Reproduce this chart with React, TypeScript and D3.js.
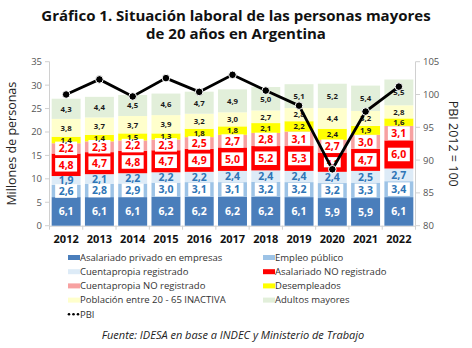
import React from "react";
import * as d3 from "d3";

const years = ["2012","2013","2014","2015","2016","2017","2018","2019","2020","2021","2022"];
const privado = [6.1,6.1,6.1,6.2,6.2,6.2,6.2,6.1,5.9,5.9,6.1];
const publico = [2.6,2.8,2.9,3.0,3.1,3.1,3.2,3.2,3.2,3.3,3.4];
const cpRegistrado = [1.9,2.1,2.2,2.2,2.2,2.4,2.4,2.4,2.4,2.5,2.7];
const asalNoReg = [4.8,4.7,4.8,4.7,4.9,5.0,5.2,5.3,4.1,4.7,6.0];
const cpNoReg = [2.2,2.3,2.2,2.3,2.5,2.7,2.8,3.1,2.7,3.0,3.1];
const desempleados = [1.4,1.4,1.5,1.3,1.8,1.8,2.1,2.2,2.4,1.9,1.6];
const inactiva = [3.8,3.7,3.7,3.9,3.2,3.0,2.7,2.8,4.4,3.2,2.8];
const adultos = [4.3,4.4,4.5,4.6,4.7,4.9,5.0,5.1,5.2,5.4,5.5];
const pbi = [100.0,102.3,99.7,102.5,100.4,103.0,100.6,98.3,88.6,97.4,101.2];
const leftTicks = [0,5,10,15,20,25,30,35];
const rightTicks = [80,85,90,95,100,105];

const series = [
  { name: "Asalariado privado en empresas", values: privado, color: "#4A7EBB", text: "#FFFFFF", box: false, fs: 10.5 },
  { name: "Empleo público", values: publico, color: "#9DC3E6", text: "#2E75B6", box: true, fs: 10.5 },
  { name: "Cuentapropia registrado", values: cpRegistrado, color: "#DDEBF7", text: "#2E75B6", box: false, fs: 10.5 },
  { name: "Asalariado NO registrado", values: asalNoReg, color: "#FF0000", text: "#FF0000", box: true, fs: 10.5 },
  { name: "Cuentapropia NO registrado", values: cpNoReg, color: "#F7A1A1", text: "#FF0000", box: true, fs: 10.5 },
  { name: "Desempleados", values: desempleados, color: "#FFFF00", text: "#1a1a1a", box: false, fs: 7.8 },
  { name: "Población entre 20 - 65 INACTIVA", values: inactiva, color: "#FFFFCC", text: "#1a1a1a", box: false, fs: 7.8 },
  { name: "Adultos mayores", values: adultos, color: "#E2EFDA", text: "#1a1a1a", box: false, fs: 7.8 },
];

const legendOrder = [0, 1, 2, 3, 4, 5, 6, 7];

const fmt = (v: number) => v.toFixed(1).replace(".", ",");

export default function App() {
  const W = 472, H = 348;
  const x = d3.scaleBand<string>().domain(years).range([50, 415]).paddingInner(0.13).paddingOuter(0.05);
  const yL = d3.scaleLinear().domain([0, 35]).range([225.7, 61.7]);
  const yR = d3.scaleLinear().domain([80, 105]).range([225.7, 61.7]);

  const stackData = years.map((yr, i) => {
    const o: any = { year: yr };
    series.forEach((s, k) => (o["s" + k] = s.values[i]));
    return o;
  });
  const stacked = d3.stack().keys(series.map((_, k) => "s" + k))(stackData);

  const line = d3.line<number>().x((_, i) => (x(years[i]) as number) + x.bandwidth() / 2).y((d) => yR(d));

  const font = "'Open Sans', 'Noto Sans', sans-serif";
  const bw = x.bandwidth();

  return (
    <svg width={W} height={H} style={{ position: "absolute", left: 0, top: 0, background: "#fff" }} fontFamily={font}>
      <text x={236} y={21} textAnchor="middle" fontSize={15} fontWeight={700} fill="#111">Gráfico 1. Situación laboral de las personas mayores</text>
      <text x={236} y={39} textAnchor="middle" fontSize={15} fontWeight={700} fill="#111">de 20 años en Argentina</text>

      {/* axes */}
      <line x1={49.5} x2={49.5} y1={yL(35)} y2={yL(0)} stroke="#D0D0D0" />
      <line x1={415.5} x2={415.5} y1={yR(105)} y2={yR(80)} stroke="#D0D0D0" />
      <line x1={49.5} x2={415.5} y1={yL(0) + 0.5} y2={yL(0) + 0.5} stroke="#D0D0D0" />
      {leftTicks.map((t) => (
        <g key={"l" + t}>
          <line x1={45} x2={49.5} y1={yL(t)} y2={yL(t)} stroke="#D0D0D0" />
          <text x={42} y={yL(t) + 3.5} textAnchor="end" fontSize={9.5} fill="#555">{t}</text>
        </g>
      ))}
      {rightTicks.map((t) => (
        <g key={"r" + t}>
          <line x1={415.5} x2={420} y1={yR(t)} y2={yR(t)} stroke="#D0D0D0" />
          <text x={423} y={yR(t) + 3.5} textAnchor="start" fontSize={9.5} fill="#555">{t}</text>
        </g>
      ))}
      {years.map((yr) => {
        const xx = (x(yr) as number) - (x.step() - bw) / 2;
        return <line key={"xt" + yr} x1={xx} x2={xx} y1={yL(0)} y2={yL(0) + 4} stroke="#D0D0D0" />;
      })}
      <line x1={415.5} x2={415.5} y1={yL(0)} y2={yL(0) + 4} stroke="#D0D0D0" />

      <text transform={`translate(16,${(yL(0) + yL(35)) / 2}) rotate(-90)`} textAnchor="middle" fontSize={12.5} fill="#222">Millones de personas</text>
      <text transform={`translate(449,${(yL(0) + yL(35)) / 2}) rotate(90)`} textAnchor="middle" fontSize={12.5} fill="#222">PBI 2012 = 100</text>

      {/* bars */}
      {stacked.map((layer, k) => (
        <g key={"layer" + k}>
          {layer.map((d, i) => (
            <rect key={i} x={x(years[i])} width={bw} y={yL(d[1])} height={yL(d[0]) - yL(d[1])} fill={series[k].color} />
          ))}
        </g>
      ))}
      {/* labels */}
      {stacked.map((layer, k) => (
        <g key={"lab" + k}>
          {layer.map((d, i) => {
            const s = series[k];
            const cx = (x(years[i]) as number) + bw / 2;
            const cy = (yL(d[0]) + yL(d[1])) / 2;
            const label = fmt(s.values[i]);
            const fs = k === 3 && s.values[i] < 4.5 ? 7.5 : s.fs;
            const tw = label.length * fs * 0.57;
            return (
              <g key={i}>
                {s.box && (
                  <rect x={cx - tw / 2 - 2} y={cy - fs * 0.55 - 1} width={tw + 4} height={fs * 1.1 + 2} fill="#fff" />
                )}
                <text x={cx} y={cy + fs * 0.36} textAnchor="middle" fontSize={fs} fontWeight={700} fill={s.text}>{label}</text>
              </g>
            );
          })}
        </g>
      ))}

      {/* PBI line */}
      <path d={line(pbi) || ""} fill="none" stroke="#000" strokeWidth={2.8} />
      {pbi.map((v, i) => (
        <circle key={"p" + i} cx={(x(years[i]) as number) + bw / 2} cy={yR(v)} r={3.8} fill="#000" stroke="#fff" strokeWidth={1} />
      ))}

      {years.map((yr) => (
        <text key={"yl" + yr} x={(x(yr) as number) + bw / 2} y={243} textAnchor="middle" fontSize={11} fontWeight={700} fill="#111">{yr}</text>
      ))}

      {/* legend */}
      {legendOrder.map((k, j) => {
        const col = j % 2;
        const row = Math.floor(j / 2);
        const lx = col === 0 ? 68 : 263;
        const ly = 257.5 + row * 14.2;
        return (
          <g key={"lg" + k}>
            <rect x={lx} y={ly - 2.5} width={12} height={5} fill={series[k].color} />
            <text x={lx + 12} y={ly + 3.3} fontSize={9.5} fill="#333">{series[k].name}</text>
          </g>
        );
      })}
      <g>
        {[0, 1, 2].map((i) => (
          <circle key={"ld" + i} cx={69 + i * 4.5} cy={314.3} r={1.3} fill="#000" />
        ))}
        <text x={80} y={317.6} fontSize={9.5} fill="#333">PBI</text>
      </g>

      <text x={233} y={339} textAnchor="middle" fontSize={11} fontStyle="italic" fill="#222">Fuente: IDESA en base a INDEC y Ministerio de Trabajo</text>
    </svg>
  );
}
